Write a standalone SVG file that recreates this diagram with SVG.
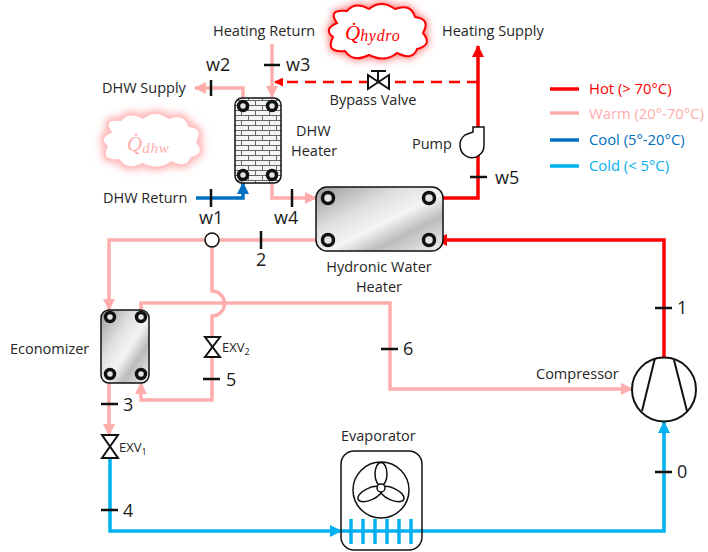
<svg xmlns="http://www.w3.org/2000/svg" width="708" height="552" viewBox="0 0 708 552">
<style>
text{font-family:"Open Sans","Liberation Sans",sans-serif;font-size:14.5px;fill:#262626}
.n{font-size:18px;fill:#1a1a1a}
.s{font-size:13px}
.l{font-size:14.8px}
.q{font-family:"Liberation Serif",serif;font-style:italic}
.w{fill:none;stroke:#FFACAC;stroke-width:3.5}
.h{fill:none;stroke:#FF0000;stroke-width:3.5}
.b{fill:none;stroke:#0070C0;stroke-width:3.5}
.c{fill:none;stroke:#00B0F0;stroke-width:3.5}
.t{stroke:#111;stroke-width:2.5;fill:none}
.o{fill:none;stroke:#111;stroke-width:2}
.p{fill:#e4e4e4;stroke:#111;stroke-width:3.5}
</style>
<defs>
<linearGradient id="metal" x1="0" y1="0" x2="1" y2="1">
<stop offset="0" stop-color="#9a9a9a"/><stop offset="0.35" stop-color="#e0e0e0"/><stop offset="0.55" stop-color="#f4f4f4"/><stop offset="0.72" stop-color="#bcbcbc"/><stop offset="1" stop-color="#f0f0f0"/>
</linearGradient>
<pattern id="brick" width="14" height="10" patternUnits="userSpaceOnUse">
<rect width="14" height="10" fill="#f4f4f4"/>
<path d="M0 0.5H14M0 5.5H14M3.5 0V5M10.5 5V10" stroke="#666" stroke-width="1" fill="none"/>
</pattern>
<filter id="glow" x="-30%" y="-40%" width="160%" height="180%"><feGaussianBlur stdDeviation="4"/></filter>
<marker id="aw" markerUnits="userSpaceOnUse" markerWidth="13" markerHeight="13" refX="11" refY="6" orient="auto"><path d="M0 0L12 6L0 12Z" fill="#FFACAC"/></marker>
<marker id="ah" markerUnits="userSpaceOnUse" markerWidth="13" markerHeight="13" refX="11" refY="6" orient="auto"><path d="M0 0L12 6L0 12Z" fill="#FF0000"/></marker>
<marker id="as" markerUnits="userSpaceOnUse" markerWidth="9" markerHeight="9" refX="8" refY="4.5" orient="auto"><path d="M0 0L9 4.5L0 9Z" fill="#FF0000"/></marker>
<marker id="ab" markerUnits="userSpaceOnUse" markerWidth="13" markerHeight="13" refX="11" refY="6" orient="auto"><path d="M0 0L12 6L0 12Z" fill="#0070C0"/></marker>
<marker id="ac" markerUnits="userSpaceOnUse" markerWidth="13" markerHeight="13" refX="11" refY="6" orient="auto"><path d="M0 0L12 6L0 12Z" fill="#00B0F0"/></marker>
<path id="cloud" d="M-40 -10Q-50 -24 -30 -22Q-22 -32 -8 -24Q4 -34 18 -24Q34 -30 38 -16Q54 -14 46 0Q56 12 40 16Q36 28 20 20Q8 30 -8 22Q-24 30 -32 18Q-52 20 -44 4Q-54 -4 -40 -10Z"/>
</defs>

<g id="connectors">
<path class="w" d="M272 44V97" marker-end="url(#aw)"/>
<path class="w" d="M243 104V88H195" marker-end="url(#aw)"/>
<path class="b" d="M196 198H243V183" marker-end="url(#ab)"/>
<path class="w" d="M272 178V198H316" marker-end="url(#aw)"/>
<path class="h" d="M434 198H478V46" marker-end="url(#ah)"/>
<path d="M478 82H275" fill="none" stroke="#FF0000" stroke-width="2.5" stroke-dasharray="11 7" marker-end="url(#as)"/>
<path class="h" d="M664 358V240H436" marker-end="url(#ah)"/>
<path class="w" d="M322 240H109V310" marker-end="url(#aw)"/>
<path class="w" d="M212 247V291A12.5 12.5 0 0 1 212 316V400H141V383" marker-end="url(#aw)"/>
<path class="w" d="M141 311V303H390V389H632" marker-end="url(#aw)"/>
<path class="w" d="M109 383V435" marker-end="url(#aw)"/>
<path class="c" d="M110 458V531H341" marker-end="url(#ac)"/>
<path class="c" d="M341 531H664V422" marker-end="url(#ac)"/>
<path class="t" d="M264 65H280M211 80V96M211 189V207M292 189V207M470 177H487M261 231V249M655 308H672M655 472H672M381 349H398M203 379H220M101 404H118M101 510H118"/>
</g>

<g id="cloud-hydro">
<use href="#cloud" transform="translate(377 33)" fill="#FF6060" filter="url(#glow)" stroke="#FF6060" stroke-width="3"/>
<use href="#cloud" transform="translate(377 33)" fill="#fff" stroke="#FF0000" stroke-width="2"/>
<text class="q" x="345" y="40" style="font-size:21px;fill:#FF0000">Q̇<tspan font-size="16" letter-spacing="0.7" dy="1">hydro</tspan></text>
</g>
<g id="cloud-dhw">
<use href="#cloud" transform="translate(151 142)" fill="#FFACAC" filter="url(#glow)" stroke="#FFACAC" stroke-width="5"/>
<use href="#cloud" transform="translate(151 142)" fill="#fff" stroke="#FFC4C4" stroke-width="2"/>
<text class="q" x="127" y="151" style="font-size:21px;fill:#FFACAC">Q̇<tspan font-size="15" letter-spacing="0.8" dy="2">dhw</tspan></text>
</g>

<g id="dhw-heater">
<rect x="235" y="98" width="46" height="85" rx="7" fill="url(#brick)" stroke="#111" stroke-width="1.5"/>
<circle class="p" cx="243" cy="106" r="4.5"/><circle class="p" cx="272" cy="106" r="4.5"/>
<circle class="p" cx="243" cy="175" r="4.5"/><circle class="p" cx="272" cy="175" r="4.5"/>
<text x="296" y="136">DHW</text><text x="291" y="156">Heater</text>
</g>
<g id="hydronic-heater">
<rect x="316" y="187" width="127" height="64" rx="11" fill="url(#metal)" stroke="#111" stroke-width="1.5"/>
<circle class="p" cx="328" cy="198" r="5.5" stroke-width="4"/><circle class="p" cx="429" cy="198" r="5.5" stroke-width="4"/>
<circle class="p" cx="328" cy="240" r="5.5" stroke-width="4"/><circle class="p" cx="429" cy="240" r="5.5" stroke-width="4"/>
<text x="379" y="272" text-anchor="middle">Hydronic Water</text><text x="379" y="292" text-anchor="middle">Heater</text>
</g>
<g id="economizer">
<rect x="101" y="310" width="48" height="73" rx="8" fill="url(#metal)" stroke="#111" stroke-width="1.5"/>
<circle class="p" cx="110" cy="317" r="4.5"/><circle class="p" cx="141" cy="317" r="4.5"/>
<circle class="p" cx="110" cy="374" r="4.5"/><circle class="p" cx="141" cy="374" r="4.5"/>
<text x="10" y="354">Economizer</text>
</g>
<g id="bypass-valve">
<path d="M368 75L389 89V75L368 89Z" fill="#fff" stroke="#111" stroke-width="2"/>
<path class="o" d="M378 82V71M371 71H386"/>
<text x="373" y="105" text-anchor="middle">Bypass Valve</text>
</g>
<g id="pump">
<path d="M473 127H484V145A12 12.5 0 1 1 465 135Q470 133 473 132Z" fill="#fff" stroke="#111" stroke-width="1.5"/>
<text x="412" y="149">Pump</text>
</g>
<g id="mixer">
<circle cx="212" cy="240" r="7" fill="#fff" stroke="#111" stroke-width="1.5"/>
</g>
<g id="exv2">
<path d="M205 337H220L205 357H220Z" fill="#fff" stroke="#111" stroke-width="2"/>
<text class="s" x="222" y="352">EXV<tspan font-size="9" dy="3">2</tspan></text>
</g>
<g id="exv1">
<path d="M102 435H118L102 458H118Z" fill="#fff" stroke="#111" stroke-width="2"/>
<text class="s" x="119" y="452">EXV<tspan font-size="9" dy="3">1</tspan></text>
</g>
<g id="compressor">
<circle cx="664" cy="389.5" r="32" fill="#fff" stroke="#111" stroke-width="2"/>
<path class="o" d="M655 358L642 411M674 360L687 411"/>
<text x="536" y="379">Compressor</text>
</g>
<g id="evaporator">
<rect x="341" y="451" width="81" height="99" rx="13" fill="none" stroke="#111" stroke-width="1.5"/>
<circle cx="381" cy="490" r="28" fill="#fff" stroke="#111" stroke-width="1.5"/>
<g fill="none" stroke="#111" stroke-width="1.5">
<ellipse cx="381" cy="474" rx="6" ry="11.5"/>
<ellipse cx="370" cy="494" rx="13" ry="6" transform="rotate(-25 370 494)"/>
<ellipse cx="392" cy="494" rx="13" ry="6" transform="rotate(25 392 494)"/>
</g>
<circle cx="381" cy="488" r="4" fill="#fff" stroke="#111" stroke-width="1.5"/>
<path d="M351 519V544M363 519V544M375 519V544M387 519V544M399 519V544M411 519V544" stroke="#00B0F0" stroke-width="3.5" fill="none"/>
<text x="341" y="441">Evaporator</text>
</g>

<g id="labels">
<text x="213" y="36">Heating Return</text>
<text x="442" y="36">Heating Supply</text>
<text x="102" y="93">DHW Supply</text>
<text x="103" y="203">DHW Return</text>
<text class="n" x="206" y="71">w2</text>
<text class="n" x="286" y="71">w3</text>
<text class="n" x="199" y="224">w1</text>
<text class="n" x="274" y="224">w4</text>
<text class="n" x="495" y="184">w5</text>
<text class="n" x="256" y="266">2</text>
<text class="n" x="677" y="314">1</text>
<text class="n" x="403" y="355">6</text>
<text class="n" x="226" y="386">5</text>
<text class="n" x="123" y="411">3</text>
<text class="n" x="123" y="517">4</text>
<text class="n" x="677" y="478">0</text>
</g>

<g id="legend">
<path class="h" d="M550 89H579"/><path class="w" d="M550 113H579"/><path class="b" d="M550 140H579"/><path class="c" d="M550 166H579"/>
<text class="l" x="589" y="94" style="fill:#FF0000">Hot (&gt; 70°C)</text>
<text class="l" x="589" y="119" style="fill:#FFACAC">Warm (20°-70°C)</text>
<text class="l" x="589" y="145" style="fill:#0070C0">Cool (5°-20°C)</text>
<text class="l" x="589" y="171" style="fill:#00B0F0">Cold (&lt; 5°C)</text>
</g>
</svg>
